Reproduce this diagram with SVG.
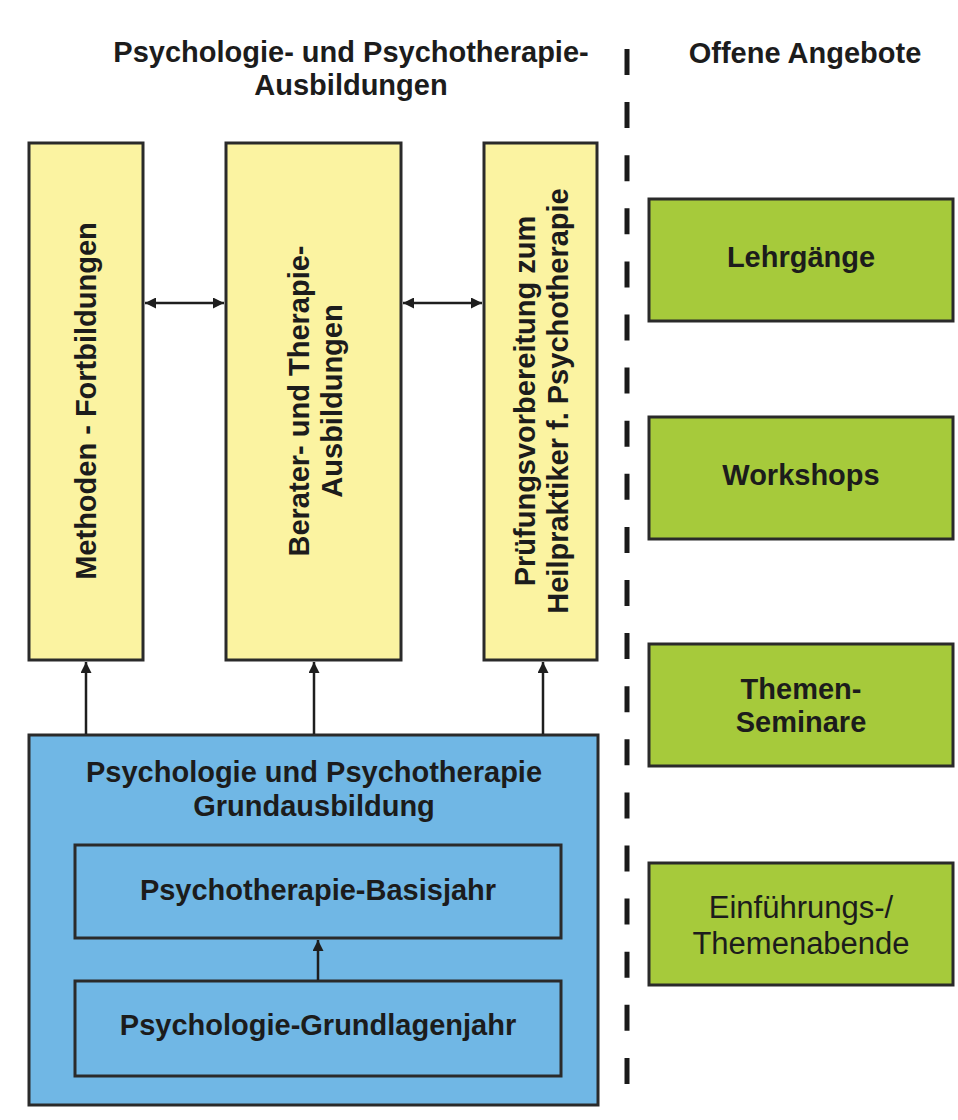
<svg xmlns="http://www.w3.org/2000/svg" width="958" height="1120" viewBox="0 0 958 1120">
<defs>
<style>
.t{font-family:"Liberation Sans",Arial,sans-serif;font-weight:bold;font-size:29px;fill:#1c1c1c;text-anchor:middle}
.r{font-family:"Liberation Sans",Arial,sans-serif;font-weight:normal;font-size:31px;fill:#1c1c1c;text-anchor:middle}
.y{fill:#fbf3a1;stroke:#2a2a2a;stroke-width:3}
.b{fill:#70b7e5;stroke:#2a2a2a;stroke-width:3}
.g{fill:#a6ca3b;stroke:#2a2a2a;stroke-width:3}
.c{stroke:#1e1e1e;stroke-width:2.5;fill:none}
</style>
<marker id="ah" viewBox="0 0 10 10" refX="10" refY="5" markerWidth="11" markerHeight="11" orient="auto-start-reverse" markerUnits="userSpaceOnUse">
<path d="M0,0 L10,5 L0,10 z" fill="#1e1e1e"/>
</marker>
</defs>
<rect width="958" height="1120" fill="#ffffff"/>

<g id="headings">
<text class="t" x="351" y="62">Psychologie- und Psychotherapie-</text>
<text class="t" x="351" y="95">Ausbildungen</text>
<text class="t" x="805" y="63">Offene Angebote</text>
</g>

<g id="divider">
<line x1="627" y1="49" x2="627" y2="1085" stroke="#1a1a1a" stroke-width="5" stroke-dasharray="26 27.1"/>
</g>

<g id="methoden">
<rect class="y" x="29" y="143" width="114" height="517"/>
<g transform="translate(86,401) rotate(-90)"><text class="t" x="0" y="10">Methoden - Fortbildungen</text></g>
</g>

<g id="berater">
<rect class="y" x="226" y="143" width="175" height="517"/>
<g transform="translate(313.5,401) rotate(-90)">
<text class="t" x="0" y="-5">Berater- und Therapie-</text>
<text class="t" x="0" y="28">Ausbildungen</text>
</g>
</g>

<g id="pruefung">
<rect class="y" x="484" y="143" width="113" height="517"/>
<g transform="translate(540.5,401) rotate(-90)">
<text class="t" x="0" y="-6">Prüfungsvorbereitung zum</text>
<text class="t" x="0" y="27">Heilpraktiker f. Psychotherapie</text>
</g>
</g>

<g id="grundausbildung">
<rect class="b" x="29" y="735" width="569" height="370"/>
<text class="t" x="314" y="782">Psychologie und Psychotherapie</text>
<text class="t" x="314" y="816">Grundausbildung</text>
</g>

<g id="basisjahr">
<rect class="b" x="75" y="845" width="486" height="93"/>
<text class="t" x="318" y="900">Psychotherapie-Basisjahr</text>
</g>

<g id="grundlagenjahr">
<rect class="b" x="75" y="981" width="486" height="95"/>
<text class="t" x="318" y="1035">Psychologie-Grundlagenjahr</text>
</g>

<g id="lehrgaenge">
<rect class="g" x="649" y="199" width="304" height="122"/>
<text class="t" x="801" y="267">Lehrgänge</text>
</g>

<g id="workshops">
<rect class="g" x="649" y="417" width="304" height="122"/>
<text class="t" x="801" y="485">Workshops</text>
</g>

<g id="themenseminare">
<rect class="g" x="649" y="644" width="304" height="122"/>
<text class="t" x="801" y="699">Themen-</text>
<text class="t" x="801" y="732">Seminare</text>
</g>

<g id="themenabende">
<rect class="g" x="649" y="863" width="304" height="122"/>
<text class="r" x="801" y="918">Einführungs-/</text>
<text class="r" x="801" y="954">Themenabende</text>
</g>

<g id="connectors">
<line class="c" x1="145" y1="303" x2="224" y2="303" marker-start="url(#ah)" marker-end="url(#ah)"/>
<line class="c" x1="403" y1="303" x2="482" y2="303" marker-start="url(#ah)" marker-end="url(#ah)"/>
<line class="c" x1="86" y1="734" x2="86" y2="662" marker-end="url(#ah)"/>
<line class="c" x1="314" y1="734" x2="314" y2="662" marker-end="url(#ah)"/>
<line class="c" x1="543" y1="734" x2="543" y2="662" marker-end="url(#ah)"/>
<line class="c" x1="318" y1="980" x2="318" y2="940" marker-end="url(#ah)"/>
</g>
</svg>
